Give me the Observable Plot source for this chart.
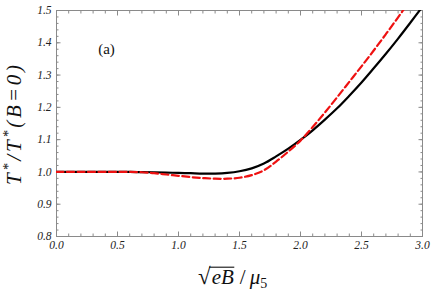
<!DOCTYPE html>
<html><head><meta charset="utf-8">
<script src="https://cdn.jsdelivr.net/npm/d3@7"></script>
<script src="https://cdn.jsdelivr.net/npm/@observablehq/plot@0.6"></script>
<style>
body{margin:0;background:#fff}
svg text, svg tspan { font-family: 'Liberation Serif', 'Times New Roman', serif !important; }
</style>
</head><body><div id="chart"></div>
<script>
// ---- data ----
const xGrid = [0, 0.2, 0.4, 0.6, 0.7, 0.8, 0.9, 1.0, 1.1, 1.2, 1.3, 1.4, 1.5, 1.6, 1.7, 1.8, 1.9, 2.0, 2.1, 2.2, 2.3, 2.4, 2.5, 2.6, 2.7, 2.8, 2.9, 3.0];
const blackSeries = [1.0, 1.0, 1.0, 1.0, 0.9995, 0.999, 0.998, 0.997, 0.996, 0.995, 0.995, 0.997, 1.002, 1.011, 1.026, 1.048, 1.072, 1.099, 1.129, 1.162, 1.197, 1.236, 1.277, 1.321, 1.366, 1.413, 1.462, 1.512];
const redSeries   = [1.0, 1.0, 1.0, 1.0, 0.999, 0.996, 0.992, 0.988, 0.984, 0.981, 0.979, 0.979, 0.982, 0.990, 1.005, 1.032, 1.063, 1.097, 1.139, 1.184, 1.231, 1.279, 1.327, 1.376, 1.427, 1.479, 1.533, 1.59];
const xTickValues = [0, 0.5, 1.0, 1.5, 2.0, 2.5, 3.0];
const xTickLabels = ["0.0", "0.5", "1.0", "1.5", "2.0", "2.5", "3.0"];
const yTickValues = [0.8, 0.9, 1.0, 1.1, 1.2, 1.3, 1.4, 1.5];
const yTickLabels = ["0.8", "0.9", "1.0", "1.1", "1.2", "1.3", "1.4", "1.5"];
const panelLabel = "(a)";

const blackData = xGrid.map((x, i) => ({x, y: blackSeries[i]}));
const redData = xGrid.map((x, i) => ({x, y: redSeries[i]}));
const xMinor = d3.range(0, 31).map(i => i / 10);
const yMinor = d3.range(0, 36).map(i => +(0.8 + i * 0.02).toFixed(2));

const tickColor = "#8a8a8a";
const axisTicks = [];
for (const a of ["bottom", "top"]) {
  axisTicks.push(Plot.axisX(xMinor, {anchor: a, tickSize: -2.5, tickFormat: () => "", stroke: tickColor, label: null}));
  axisTicks.push(Plot.axisX(xTickValues, {anchor: a, tickSize: -4.5, tickFormat: () => "", stroke: tickColor, label: null}));
}
for (const a of ["left", "right"]) {
  axisTicks.push(Plot.axisY(yMinor, {anchor: a, tickSize: -2.5, tickFormat: () => "", stroke: tickColor, label: null}));
  axisTicks.push(Plot.axisY(yTickValues, {anchor: a, tickSize: -4.5, tickFormat: () => "", stroke: tickColor, label: null}));
}

const plot = Plot.plot({
  width: 436, height: 300,
  marginLeft: 56, marginRight: 14, marginTop: 10, marginBottom: 64,
  style: {fontFamily: "Liberation Serif", fontStyle: "italic", fontSize: "11.5px", color: "#222", background: "#fff"},
  x: {domain: [0, 3], label: null, axis: null},
  y: {domain: [0.8, 1.5], label: null, axis: null},
  marks: [
    Plot.frame({stroke: tickColor, strokeWidth: 1}),
    ...axisTicks,
    Plot.axisX(xTickValues, {anchor: "bottom", tickSize: 0, tickPadding: 4, tickFormat: d => xTickLabels[xTickValues.indexOf(d)], fill: "#222", label: null}),
    Plot.axisY(yTickValues, {anchor: "left", tickSize: 0, tickPadding: 5, tickFormat: d => yTickLabels[yTickValues.indexOf(d)], fill: "#222", label: null}),
    Plot.line(blackData, {x: "x", y: "y", stroke: "black", strokeWidth: 2.2, curve: "catmull-rom", clip: true}),
    Plot.line(redData, {x: "x", y: "y", stroke: "#ee1111", strokeWidth: 2.2, strokeDasharray: "7,3.5", curve: "catmull-rom", clip: true}),
    Plot.text([panelLabel], {frameAnchor: "top-left", dx: 50, dy: 33, text: d => d, fontSize: 15, fontStyle: "normal", fill: "#111", textAnchor: "middle"})
  ]
});
document.getElementById("chart").appendChild(plot);

// axis titles
const svg = d3.select(plot);
const xl = svg.append("text")
  .attr("x", 198).attr("y", 284)
  .attr("text-anchor", "start")
  .attr("font-size", 21).attr("fill", "#111");
xl.append("tspan").attr("font-style", "normal").attr("font-size", 23).text("√");
xl.append("tspan").attr("font-style", "italic").attr("dx", 1).text("eB");
xl.append("tspan").attr("font-style", "normal").attr("dx", 6).text("/");
xl.append("tspan").attr("font-style", "italic").attr("dx", 4).text("μ");
xl.append("tspan").attr("font-style", "normal").attr("font-size", 14).attr("dy", 4).text("5");
// overline above eB, joined to the radical
const node = xl.node();
const r = node.getExtentOfChar(0), b = node.getExtentOfChar(2);
svg.append("line")
  .attr("x1", r.x + r.width - 1.5).attr("x2", b.x + b.width + 0.5)
  .attr("y1", r.y + 3.2).attr("y2", r.y + 3.2)
  .attr("stroke", "#111").attr("stroke-width", 1.1);

const yl = svg.append("text")
  .attr("transform", "translate(21,125) rotate(-90)")
  .attr("text-anchor", "middle")
  .attr("font-size", 21).attr("font-style", "italic").attr("fill", "#111")
  .attr("textLength", 120).attr("lengthAdjust", "spacing");
yl.append("tspan").text("T");
yl.append("tspan").attr("font-size", 14).attr("dy", -8).text("*");
yl.append("tspan").attr("dy", 8).text("/");
yl.append("tspan").text("T");
yl.append("tspan").attr("font-size", 14).attr("dy", -8).text("*");
yl.append("tspan").attr("dy", 8).text("(");
yl.append("tspan").text("B");
yl.append("tspan").text("=");
yl.append("tspan").text("0");
yl.append("tspan").text(")");
</script>
</body></html>
